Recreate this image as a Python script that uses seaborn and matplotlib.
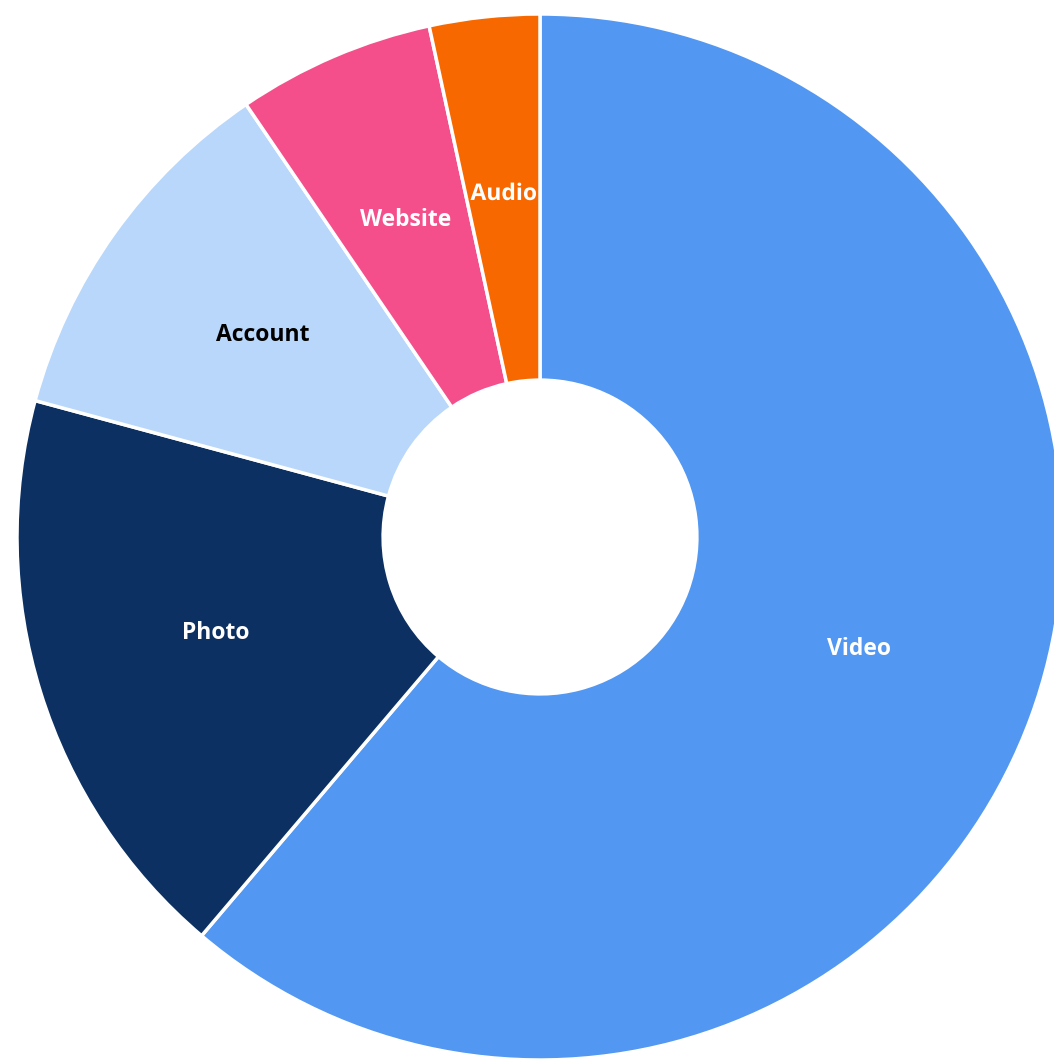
import matplotlib
matplotlib.use('Agg')
import matplotlib.pyplot as plt
import matplotlib.patheffects as pe
import seaborn as sns
import numpy as np

# Share of items by type (percent), clockwise from 12 o'clock
categories = ['Video', 'Photo', 'Account', 'Website', 'Audio']
shares = [61.2, 18.0, 11.3, 6.1, 3.4]
slice_colors = ['#5297F2', '#0B3061', '#B8D7FA', '#F44F8A', '#F76800']
label_colors = ['white', 'white', 'black', 'white', 'white']

sns.set_theme(style='white')
plt.rcParams['font.family'] = ['Open Sans', 'DejaVu Sans']

fig = plt.figure(figsize=(10.54, 10.59), dpi=100)
ax = fig.add_axes([0, 0, 1, 1])

wedges, _ = ax.pie(shares, colors=slice_colors, startangle=90, counterclock=False,
                   radius=1.0,
                   wedgeprops=dict(width=0.70, edgecolor='white', linewidth=2.5))

px = 523.0  # pixels per data unit

# labels halfway across the ring
label_r = 0.65
for w, name, tc, sc in zip(wedges, categories, label_colors, slice_colors):
    ang = np.deg2rad((w.theta1 + w.theta2) / 2)
    t = ax.text(label_r * np.cos(ang), label_r * np.sin(ang) + 5 / px, name,
                ha='center', va='center', fontsize=16.5, fontweight='bold', color=tc)
    if name == 'Audio':
        t.set_path_effects([pe.withStroke(linewidth=2.5, foreground=sc)])

# place the pie like the reference (center at ~540, 537 px, radius ~523 px)
ax.set_xlim(-540 / px, (1054 - 540) / px)
ax.set_ylim(-(1059 - 537) / px, 537 / px)
ax.set_aspect('auto')
ax.axis('off')

plt.savefig('out.png', dpi=100)
plt.close('all')
